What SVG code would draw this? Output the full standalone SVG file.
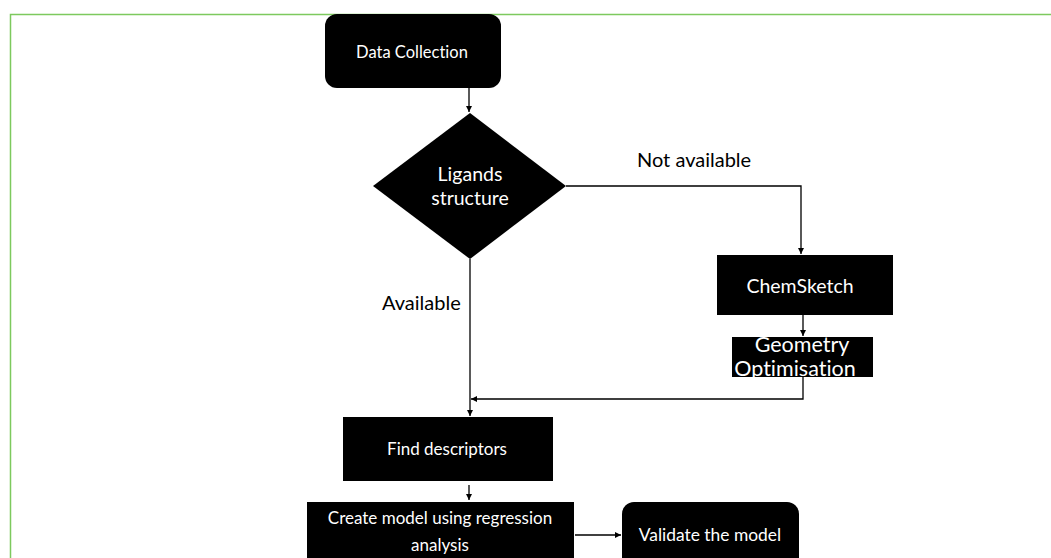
<svg xmlns="http://www.w3.org/2000/svg" width="1051" height="558" viewBox="0 0 1051 558">
<style>
.n{fill:#000}
.t{fill:#fff;font-family:Lato,"Liberation Sans",sans-serif;font-size:17px;text-anchor:middle;font-variant-ligatures:none}
.l{fill:#000;font-family:Lato,"Liberation Sans",sans-serif;font-size:20px;font-variant-ligatures:none}
.c{fill:none;stroke:#000;stroke-width:1.3}
</style>
<defs>
<marker id="ah" viewBox="0 0 10 10" refX="10" refY="5" markerWidth="6" markerHeight="6" markerUnits="userSpaceOnUse" orient="auto">
<path d="M0,0L10,5L0,10z" fill="#000"/>
</marker>
</defs>
<rect width="1051" height="558" fill="#fff"/>
<path d="M10.5,558V14.5H1051" fill="none" stroke="#7dc95e" stroke-width="1.5"/>
<g id="connectors">
<path class="c" d="M469,88V112" marker-end="url(#ah)"/>
<path class="c" d="M566,186H801V254" marker-end="url(#ah)"/>
<path class="c" d="M470,259V416" marker-end="url(#ah)"/>
<path class="c" d="M803,315V336" marker-end="url(#ah)"/>
<path class="c" d="M803,377V399H471" marker-end="url(#ah)"/>
<path class="c" d="M469,485V500" marker-end="url(#ah)"/>
<path class="c" d="M575,535H621" marker-end="url(#ah)"/>
<text class="l" x="637" y="167">Not available</text>
<text class="l" x="382" y="310">Available</text>
</g>
<g id="data-collection">
<rect class="n" x="325" y="14" width="176" height="74" rx="12"/>
<text class="t" x="412" y="58" style="font-size:16.5px">Data Collection</text>
</g>
<g id="ligands-structure">
<polygon class="n" points="373,186 470,113 566,186 470,259"/>
<text class="t" x="470" y="181" style="font-size:19.5px">Ligands</text>
<text class="t" x="470" y="205" style="font-size:19.5px">structure</text>
</g>
<g id="chemsketch">
<rect class="n" x="717" y="255" width="176" height="60"/>
<text class="t" x="800" y="293" style="font-size:19.5px">ChemSketch</text>
</g>
<g id="geometry-optimisation">
<rect class="n" x="732" y="337" width="141" height="40"/>
<text class="t" x="802" y="352" style="font-size:21.5px">Geometry</text>
<text class="t" x="795" y="376" style="font-size:21.5px">Optimisation</text>
</g>
<g id="find-descriptors">
<rect class="n" x="343" y="417" width="210" height="64"/>
<text class="t" x="447" y="455">Find descriptors</text>
</g>
<g id="create-model">
<rect class="n" x="307" y="502" width="267" height="70"/>
<text class="t" x="440" y="524">Create model using regression</text>
<text class="t" x="440" y="551">analysis</text>
</g>
<g id="validate-model">
<rect class="n" x="622" y="502" width="177" height="80" rx="12"/>
<text class="t" x="710" y="541" style="font-size:17.4px">Validate the model</text>
</g>
</svg>
